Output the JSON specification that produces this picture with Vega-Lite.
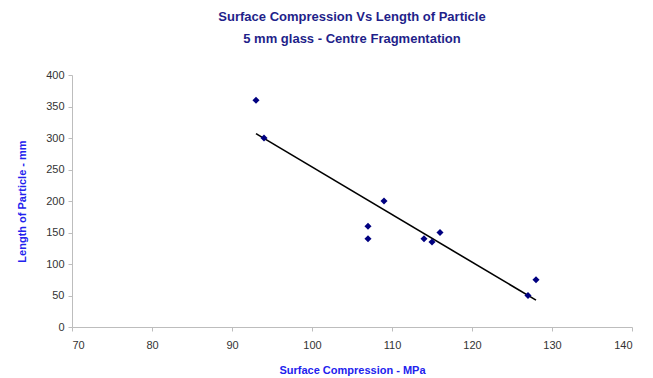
{
  "$schema": "https://vega.github.io/schema/vega-lite/v6.json",
  "width": 560,
  "height": 252,
  "autosize": {"type": "none"},
  "padding": {"left": 72, "top": 75, "right": 21, "bottom": 51},
  "background": "white",
  "title": {
    "text": ["Surface Compression Vs Length of Particle", "5 mm glass - Centre Fragmentation"],
    "font": "Liberation Sans",
    "fontSize": 13,
    "fontWeight": "bold",
    "color": "#1f1f8a",
    "lineHeight": 22,
    "anchor": "middle",
    "offset": 23
  },
  "config": {
    "view": {"stroke": null},
    "axis": {
      "grid": false,
      "domainColor": "#bdbdbd",
      "tickColor": "#bdbdbd",
      "tickSize": 4,
      "labelFont": "Liberation Sans",
      "labelFontSize": 11,
      "labelColor": "#333333",
      "labelOverlap": false,
      "titleFont": "Liberation Sans",
      "titleFontSize": 11,
      "titleFontWeight": "bold",
      "titleColor": "#2222ee"
    }
  },
  "data": {
    "values": [
      {"sc": 93, "len": 360},
      {"sc": 94, "len": 300},
      {"sc": 109, "len": 200},
      {"sc": 107, "len": 160},
      {"sc": 107, "len": 140},
      {"sc": 114, "len": 140},
      {"sc": 115, "len": 135},
      {"sc": 116, "len": 150},
      {"sc": 127, "len": 50},
      {"sc": 128, "len": 75}
    ]
  },
  "encoding": {
    "x": {
      "field": "sc", "type": "quantitative",
      "scale": {"domain": [70, 140], "nice": false, "zero": false},
      "axis": {"title": "Surface Compression - MPa", "values": [70, 80, 90, 100, 110, 120, 130, 140], "labelPadding": 8, "titlePadding": 14}
    },
    "y": {
      "field": "len", "type": "quantitative",
      "scale": {"domain": [0, 400], "nice": false},
      "axis": {"title": "Length of Particle - mm", "values": [0, 50, 100, 150, 200, 250, 300, 350, 400], "labelPadding": 4, "titlePadding": 18}
    }
  },
  "layer": [
    {
      "transform": [{"regression": "len", "on": "sc", "extent": [93, 128]}],
      "mark": {"type": "line", "color": "black", "strokeWidth": 1.6}
    },
    {
      "mark": {"type": "point", "shape": "diamond", "filled": true, "color": "#000080", "size": 50, "opacity": 1}
    }
  ]
}
